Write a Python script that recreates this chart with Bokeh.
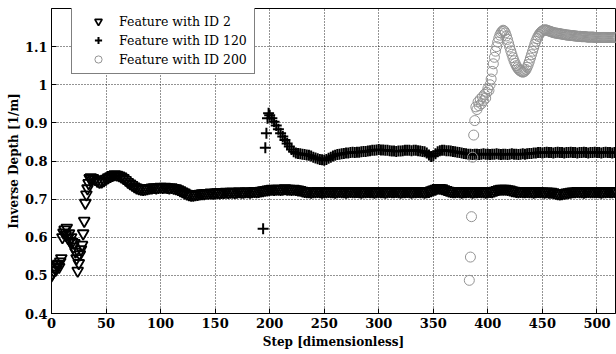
from bokeh.plotting import figure
from bokeh.models import Range1d, FixedTicker, Legend, LegendItem
from bokeh.embed import file_html
from bokeh.resources import INLINE

# ---------------- data ----------------
# Feature with ID 2
id2_early_steps = list(range(0, 36))
id2_early_vals = [0.500, 0.505, 0.512, 0.520, 0.515, 0.527, 0.530, 0.522, 0.536, 0.545,
                  0.600, 0.612, 0.620, 0.606, 0.625, 0.598, 0.610, 0.590, 0.600, 0.588,
                  0.575, 0.585, 0.562, 0.545, 0.512, 0.532, 0.555, 0.568, 0.580, 0.610,
                  0.643, 0.690, 0.712, 0.728, 0.742, 0.755]
id2_late_steps = list(range(36, 520, 2))
id2_late_vals = [
    0.757, 0.755, 0.752, 0.748, 0.745, 0.746, 0.749, 0.753, 0.757, 0.760,
    0.763, 0.765, 0.764, 0.762, 0.759, 0.755, 0.750, 0.745, 0.741, 0.737,
    0.733, 0.730, 0.728, 0.727, 0.726, 0.727, 0.728, 0.729, 0.730, 0.731,
    0.730, 0.731, 0.732, 0.731, 0.732, 0.731, 0.730, 0.731, 0.729, 0.728,
    0.726, 0.723, 0.720, 0.717, 0.714, 0.712, 0.711, 0.711, 0.712, 0.713,
    0.714, 0.715, 0.715, 0.716, 0.716, 0.717, 0.716, 0.717, 0.718, 0.717,
    0.718, 0.718, 0.719, 0.718, 0.719, 0.719, 0.718, 0.719, 0.720, 0.719,
    0.719, 0.720, 0.720, 0.719, 0.720, 0.721, 0.720, 0.721, 0.722, 0.723,
    0.724, 0.725, 0.726, 0.727, 0.726, 0.727, 0.727, 0.726, 0.727, 0.728,
    0.727, 0.727, 0.726, 0.727, 0.726, 0.725, 0.724, 0.722, 0.721, 0.720,
    0.720, 0.719, 0.720, 0.720, 0.721, 0.720, 0.719, 0.720, 0.720, 0.721,
    0.720, 0.720, 0.719, 0.720, 0.721, 0.720, 0.720, 0.719, 0.720, 0.721,
    0.720, 0.720, 0.721, 0.720, 0.719, 0.720, 0.720, 0.721, 0.720, 0.720,
    0.719, 0.720, 0.721, 0.720, 0.720, 0.719, 0.720, 0.721, 0.720, 0.720,
    0.721, 0.720, 0.719, 0.720, 0.720, 0.721, 0.720, 0.719, 0.720, 0.720,
    0.721, 0.720, 0.720, 0.719, 0.720, 0.721, 0.723, 0.725, 0.727, 0.729,
    0.729, 0.728, 0.726, 0.724, 0.722, 0.721, 0.720, 0.720, 0.721, 0.720,
    0.719, 0.720, 0.720, 0.721, 0.720, 0.719, 0.720, 0.720, 0.721, 0.720,
    0.720, 0.719, 0.720, 0.721, 0.720, 0.722, 0.724, 0.726, 0.727, 0.727,
    0.727, 0.726, 0.725, 0.723, 0.722, 0.721, 0.720, 0.721, 0.720, 0.720,
    0.721, 0.720, 0.720, 0.719, 0.720, 0.721, 0.720, 0.720, 0.719, 0.720,
    0.719, 0.719, 0.718, 0.716, 0.715, 0.714, 0.715, 0.716, 0.717, 0.718,
    0.719, 0.720, 0.720, 0.721, 0.720, 0.720, 0.719, 0.720, 0.721, 0.720,
    0.720, 0.720, 0.721, 0.720, 0.719, 0.720, 0.720, 0.721, 0.720, 0.720,
    0.721, 0.720]

# Feature with ID 120
id120_early_steps = [194, 196, 197, 198, 199]
id120_early_vals = [0.622, 0.835, 0.873, 0.912, 0.925]
id120_late_steps = list(range(200, 520, 2))
id120_late_vals = [
    0.920, 0.912, 0.903, 0.893, 0.883, 0.873, 0.864, 0.855, 0.846, 0.838,
    0.830, 0.824, 0.821, 0.820, 0.819, 0.818, 0.817, 0.816, 0.815, 0.813,
    0.810, 0.808, 0.806, 0.804, 0.803, 0.802, 0.804, 0.807, 0.810, 0.813,
    0.815, 0.817, 0.818, 0.819, 0.820, 0.821, 0.821, 0.822, 0.823, 0.822,
    0.823, 0.823, 0.824, 0.825, 0.825, 0.826, 0.827, 0.828, 0.828, 0.829,
    0.830, 0.829, 0.829, 0.828, 0.828, 0.827, 0.826, 0.826, 0.825, 0.826,
    0.826, 0.827, 0.828, 0.828, 0.828, 0.827, 0.828, 0.828, 0.827, 0.826,
    0.825, 0.824, 0.821, 0.816, 0.812, 0.814, 0.819, 0.824, 0.827, 0.828,
    0.828, 0.827, 0.827, 0.826, 0.825, 0.824, 0.823, 0.822, 0.821, 0.820,
    0.819, 0.818, 0.818, 0.817, 0.818, 0.818, 0.817, 0.818, 0.819, 0.818,
    0.818, 0.817, 0.818, 0.818, 0.819, 0.818, 0.817, 0.818, 0.818, 0.817,
    0.818, 0.819, 0.818, 0.818, 0.817, 0.818, 0.819, 0.818, 0.819, 0.820,
    0.820, 0.821, 0.821, 0.822, 0.822, 0.821, 0.822, 0.823, 0.822, 0.822,
    0.821, 0.822, 0.823, 0.822, 0.822, 0.821, 0.822, 0.822, 0.823, 0.822,
    0.822, 0.821, 0.822, 0.822, 0.823, 0.822, 0.821, 0.822, 0.822, 0.823,
    0.822, 0.822, 0.821, 0.822, 0.823, 0.822, 0.822, 0.821, 0.822, 0.822]

# Feature with ID 200
id200_steps = list(range(383, 520))
id200_vals = [
    0.487, 0.548, 0.654, 0.810, 0.868, 0.906, 0.942, 0.935, 0.955, 0.945,
    0.962, 0.950, 0.968, 0.958, 0.975, 0.965, 0.980, 0.990, 0.985, 1.000,
    1.015, 1.035, 1.055, 1.072, 1.088, 1.100, 1.112, 1.122, 1.130, 1.136,
    1.140, 1.143, 1.141, 1.136, 1.128, 1.119, 1.109, 1.099, 1.089, 1.080,
    1.071, 1.063, 1.056, 1.050, 1.045, 1.041, 1.038, 1.036, 1.034, 1.033,
    1.034, 1.036, 1.040, 1.046, 1.053, 1.061, 1.070, 1.079, 1.088, 1.097,
    1.106, 1.114, 1.121, 1.127, 1.132, 1.136, 1.139, 1.141, 1.143, 1.144,
    1.144, 1.143, 1.142, 1.141, 1.140, 1.139, 1.138, 1.137, 1.136, 1.136,
    1.135, 1.135, 1.134, 1.134, 1.133, 1.133, 1.132, 1.132, 1.131, 1.131,
    1.130, 1.130, 1.130, 1.129, 1.129, 1.129, 1.128, 1.128, 1.128, 1.127,
    1.127, 1.127, 1.127, 1.126, 1.126, 1.126, 1.126, 1.126, 1.125, 1.125,
    1.125, 1.125, 1.125, 1.125, 1.125, 1.124, 1.124, 1.124, 1.124, 1.124,
    1.124, 1.124, 1.124, 1.124, 1.124, 1.124, 1.124, 1.124, 1.124, 1.124,
    1.124, 1.124, 1.124, 1.124, 1.124, 1.124, 1.124]

series_labels = ["Feature with ID 2", "Feature with ID 120", "Feature with ID 200"]
xtick_values = [0, 50, 100, 150, 200, 250, 300, 350, 400, 450, 500]
ytick_values = [0.4, 0.5, 0.6, 0.7, 0.8, 0.9, 1.0, 1.1]
ytick_labels = ["0.4", "0.5", "0.6", "0.7", "0.8", "0.9", "1", "1.1"]
x_label = "Step [dimensionless]"
y_label = "Inverse Depth [1/m]"

# ---------------- figure ----------------
FONT = "DejaVu Serif"
W, H = 616, 354
B_LEFT, B_RIGHT, B_TOP, B_BOTTOM = 51, 1, 8, 41
p = figure(width=W, height=H, output_backend="svg", toolbar_location=None,
           x_range=Range1d(0, 517), y_range=Range1d(0.4, 1.2),
           min_border_left=B_LEFT, min_border_right=B_RIGHT,
           min_border_top=B_TOP, min_border_bottom=B_BOTTOM)
p.background_fill_color = "white"
p.border_fill_color = "white"
p.outline_line_color = "black"
p.outline_line_width = 1
p.outline_line_alpha = 1.0

for ax, ticks in ((p.xaxis[0], xtick_values), (p.yaxis[0], ytick_values)):
    ax.ticker = FixedTicker(ticks=ticks)
    ax.major_tick_in = 5
    ax.major_tick_out = 0
    ax.minor_tick_line_color = None
    ax.axis_line_color = "black"
    ax.major_tick_line_color = "black"
    ax.major_label_text_font = FONT
    ax.major_label_text_font_style = "bold"
    ax.major_label_text_font_size = "13px"
    ax.major_label_text_color = "black"
    ax.axis_label_text_font = FONT
    ax.axis_label_text_font_style = "bold"
    ax.axis_label_text_font_size = "12px"
    ax.axis_label_text_color = "black"

p.xaxis[0].axis_label = x_label
p.xaxis[0].major_label_standoff = 4
p.xaxis[0].axis_label_standoff = 4
p.yaxis[0].axis_label = y_label
p.yaxis[0].major_label_standoff = 4
p.yaxis[0].axis_label_standoff = 1
p.yaxis[0].major_label_overrides = dict(zip(ytick_values, ytick_labels))

p.xgrid[0].ticker = FixedTicker(ticks=xtick_values)
p.ygrid[0].ticker = FixedTicker(ticks=ytick_values)
for g in (p.xgrid[0], p.ygrid[0]):
    g.grid_line_color = "black"
    g.grid_line_dash = "1 2"
    g.grid_line_width = 1
    g.grid_line_alpha = 0.85

r1 = p.scatter(id2_early_steps + id2_late_steps, id2_early_vals + id2_late_vals,
               marker="inverted_triangle", size=11, line_color="black", fill_color=None, line_width=1.8)
r2 = p.scatter(id120_early_steps + id120_late_steps, id120_early_vals + id120_late_vals,
               marker="cross", size=11, line_color="black", line_width=2)
r3 = p.scatter(id200_steps, id200_vals, marker="circle", size=10,
               line_color="#939393", fill_color=None, line_width=1)

frame_h = H - B_TOP - B_BOTTOM
legend = Legend(items=[LegendItem(label=series_labels[0], renderers=[r1]),
                       LegendItem(label=series_labels[1], renderers=[r2]),
                       LegendItem(label=series_labels[2], renderers=[r3])],
                location=(20, frame_h - 66))
legend.padding = 5
legend.spacing = 1
legend.label_height = 18
legend.glyph_height = 18
legend.glyph_width = 42
legend.label_standoff = 0
legend.label_width = 130
legend.margin = 0
legend.border_line_color = "black"
legend.border_line_width = 1
legend.background_fill_color = "white"
legend.background_fill_alpha = 1.0
legend.label_text_font = FONT
legend.label_text_font_size = "12.5px"
legend.label_text_color = "black"
p.add_layout(legend)

open("out.html", "w").write(file_html(p, INLINE))
